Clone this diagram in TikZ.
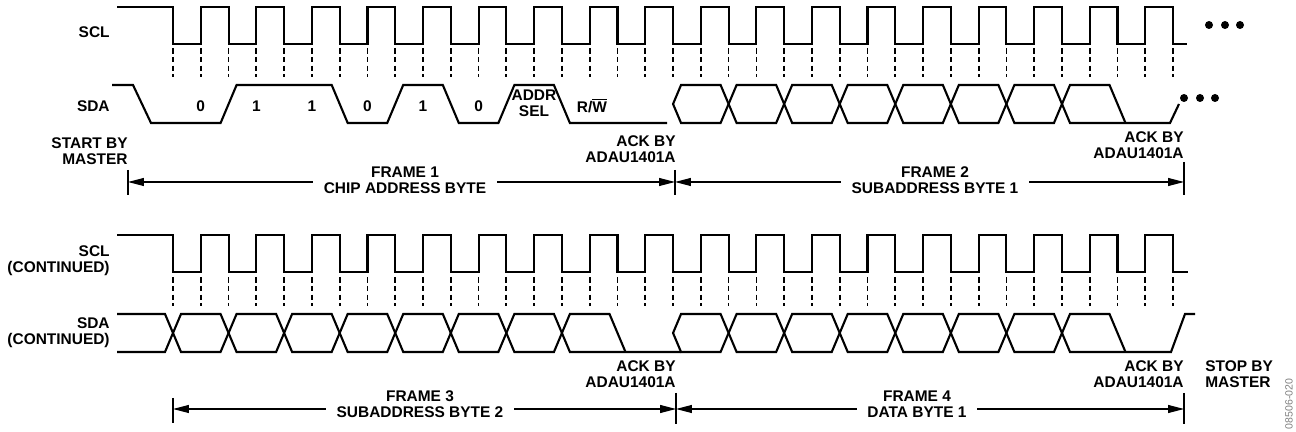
\documentclass[tikz,border=0pt]{standalone}
\usepackage{fontspec}
\setmainfont{Liberation Sans}
\usetikzlibrary{arrows.meta}
\usepackage{xcolor}
\definecolor{WaveBlack}{HTML}{000000}
\definecolor{NoteGray}{HTML}{808080}

\begin{document}
\begin{tikzpicture}[x=0.02cm, y=-0.02cm,
    wave/.style={WaveBlack, line width=1.2pt},
    clk/.style={WaveBlack, line width=1pt, dash pattern=on 3.2pt off 1.8pt},
    bar/.style={WaveBlack, line width=0.6pt},
    span/.style={WaveBlack, line width=0.6pt, -{Triangle[length=9pt, width=4.5pt]}},
    lbl/.style={font=\fontsize{8.8}{9.1}\selectfont\bfseries, inner sep=0pt},
    framelbl/.style={lbl, align=center, inner xsep=6pt}]
    \def\hp{27.78}
    \def\per{55.56}
    \useasboundingbox (0,0) rectangle (1296,432);

    % Signal names
    \node[lbl, anchor=east] (scl1) at (110,32) {SCL};
    \node[lbl, anchor=east] (sda1) at (110,106) {SDA};
    \node[lbl, anchor=east, align=right] (scl2) at (110,261) {SCL\\(CONTINUED)};
    \node[lbl, anchor=east, align=right] (sda2) at (110,333) {SDA\\(CONTINUED)};

    % SCL, first row
    \draw[wave] (117,7) -- (173,7) -- (173,44)
        \foreach \k in {0,...,17} { -- ({173+\k*\per+\hp},44) -- ({173+\k*\per+\hp},7)
            -- ({173+(\k+1)*\per},7) -- ({173+(\k+1)*\per},44) }
        -- (1187,44);
    \foreach \k in {0,...,36}
        \draw[clk] ({173+\k*\hp},48) -- ({173+\k*\hp},77);
    \fill (1209,25) circle[radius=4];
    \fill (1225,25) circle[radius=4];
    \fill (1240,25) circle[radius=4];

    % SDA, frame 1
    \draw[wave] (112,85) -- (133,85) -- (151,123) -- (220.6,123) -- (236.6,85)
        -- (331.7,85) -- (347.7,123) -- (387.2,123) -- (403.2,85) -- (442.8,85)
        -- (458.8,123) -- (498.4,123) -- (514.4,85) -- (553.9,85) -- (569.9,123) -- (667,123);
    \foreach \v [count=\i from 0] in {0,1,1,0,1,0}
        \node[lbl] (bit\i) at ({173+\i*\per+\hp},106) {\v};
    \node[lbl, align=center] (addrsel) at (534,103) {ADDR\\SEL};
    \node[lbl] (rw) at (592,106) {R/$\overline{\mbox{W}}$};

    % SDA, frame 2
    \foreach \k in {9,...,15}
        \draw[wave] ({173+\k*\per},104) -- ({173+\k*\per+8},85) -- ({173+(\k+1)*\per-8},85)
            -- ({173+(\k+1)*\per},104) -- ({173+(\k+1)*\per-8},123) -- ({173+\k*\per+8},123) -- cycle;
    \draw[wave] (1062,104) -- (1070,85) -- (1109.5,85) -- (1125.5,123);
    \draw[wave] (1062,104) -- (1070,123) -- (1170,123) -- (1179,104);
    \fill (1184,98) circle[radius=4];
    \fill (1200,98) circle[radius=4];
    \fill (1215,98) circle[radius=4];

    % Start and ack notes, first row
    \node[lbl, anchor=east, align=right] (start) at (128,151) {START BY\\MASTER};
    \node[lbl, anchor=east, align=right] (ack1) at (676,149) {ACK BY\\ADAU1401A};
    \node[lbl, anchor=east, align=right] (ack2) at (1184,145) {ACK BY\\ADAU1401A};

    % Frames 1 and 2
    \coordinate (t1a) at (128,182);
    \coordinate (t1b) at (675,182);
    \coordinate (t1c) at (1184,182);
    \draw[bar] (128,170) -- (128,195);
    \draw[bar] (675,170) -- (675,195);
    \draw[bar] (1184,162) -- (1184,195);
    \node[framelbl] (frame1) at (405,180) {FRAME 1\\CHIP ADDRESS BYTE};
    \node[framelbl] (frame2) at (935,180) {FRAME 2\\SUBADDRESS BYTE 1};
    \draw[span] (frame1.west |- t1a) -- (t1a);
    \draw[span] (frame1.east |- t1b) -- (t1b);
    \draw[span] (frame2.west |- t1b) -- (t1b);
    \draw[span] (frame2.east |- t1c) -- (t1c);

    % SCL, second row
    \draw[wave] (117,235) -- (173,235) -- (173,272)
        \foreach \k in {0,...,17} { -- ({173+\k*\per+\hp},272) -- ({173+\k*\per+\hp},235)
            -- ({173+(\k+1)*\per},235) -- ({173+(\k+1)*\per},272) }
        -- (1188,272);
    \foreach \k in {0,...,36}
        \draw[clk] ({173+\k*\hp},277) -- ({173+\k*\hp},306);

    % SDA, frame 3
    \draw[wave] (117,314) -- (165,314) -- (173,333) -- (165,352) -- (117,352);
    \foreach \k in {0,...,6}
        \draw[wave] ({173+\k*\per},333) -- ({173+\k*\per+8},314) -- ({173+(\k+1)*\per-8},314)
            -- ({173+(\k+1)*\per},333) -- ({173+(\k+1)*\per-8},352) -- ({173+\k*\per+8},352) -- cycle;
    \draw[wave] (561.9,333) -- (569.9,314) -- (609.5,314) -- (625.5,352);
    \draw[wave] (561.9,333) -- (569.9,352) -- (681,352);

    % SDA, frame 4
    \foreach \k in {9,...,15}
        \draw[wave] ({173+\k*\per},333) -- ({173+\k*\per+8},314) -- ({173+(\k+1)*\per-8},314)
            -- ({173+(\k+1)*\per},333) -- ({173+(\k+1)*\per-8},352) -- ({173+\k*\per+8},352) -- cycle;
    \draw[wave] (1062,333) -- (1070,314) -- (1109.5,314) -- (1125.5,352);
    \draw[wave] (1062,333) -- (1070,352) -- (1171,352) -- (1185,314) -- (1195,314);

    % Ack and stop notes, second row
    \node[lbl, anchor=east, align=right] (ack3) at (676,374) {ACK BY\\ADAU1401A};
    \node[lbl, anchor=east, align=right] (ack4) at (1184,374) {ACK BY\\ADAU1401A};
    \node[lbl, anchor=west, align=left] (stop) at (1205,374) {STOP BY\\MASTER};

    % Frames 3 and 4
    \coordinate (t2a) at (173,409);
    \coordinate (t2b) at (676,409);
    \coordinate (t2c) at (1184,409);
    \draw[bar] (173,398) -- (173,423);
    \draw[bar] (676,393) -- (676,424);
    \draw[bar] (1184,393) -- (1184,424);
    \node[framelbl] (frame3) at (420,404) {FRAME 3\\SUBADDRESS BYTE 2};
    \node[framelbl] (frame4) at (917,404) {FRAME 4\\DATA BYTE 1};
    \draw[span] (frame3.west |- t2a) -- (t2a);
    \draw[span] (frame3.east |- t2b) -- (t2b);
    \draw[span] (frame4.west |- t2b) -- (t2b);
    \draw[span] (frame4.east |- t2c) -- (t2c);

    % Figure number
    \node[font=\fontsize{6}{7}\selectfont, NoteGray, rotate=90, inner sep=0pt] (figid) at (1289,404) {08506-020};
\end{tikzpicture}
\end{document}
